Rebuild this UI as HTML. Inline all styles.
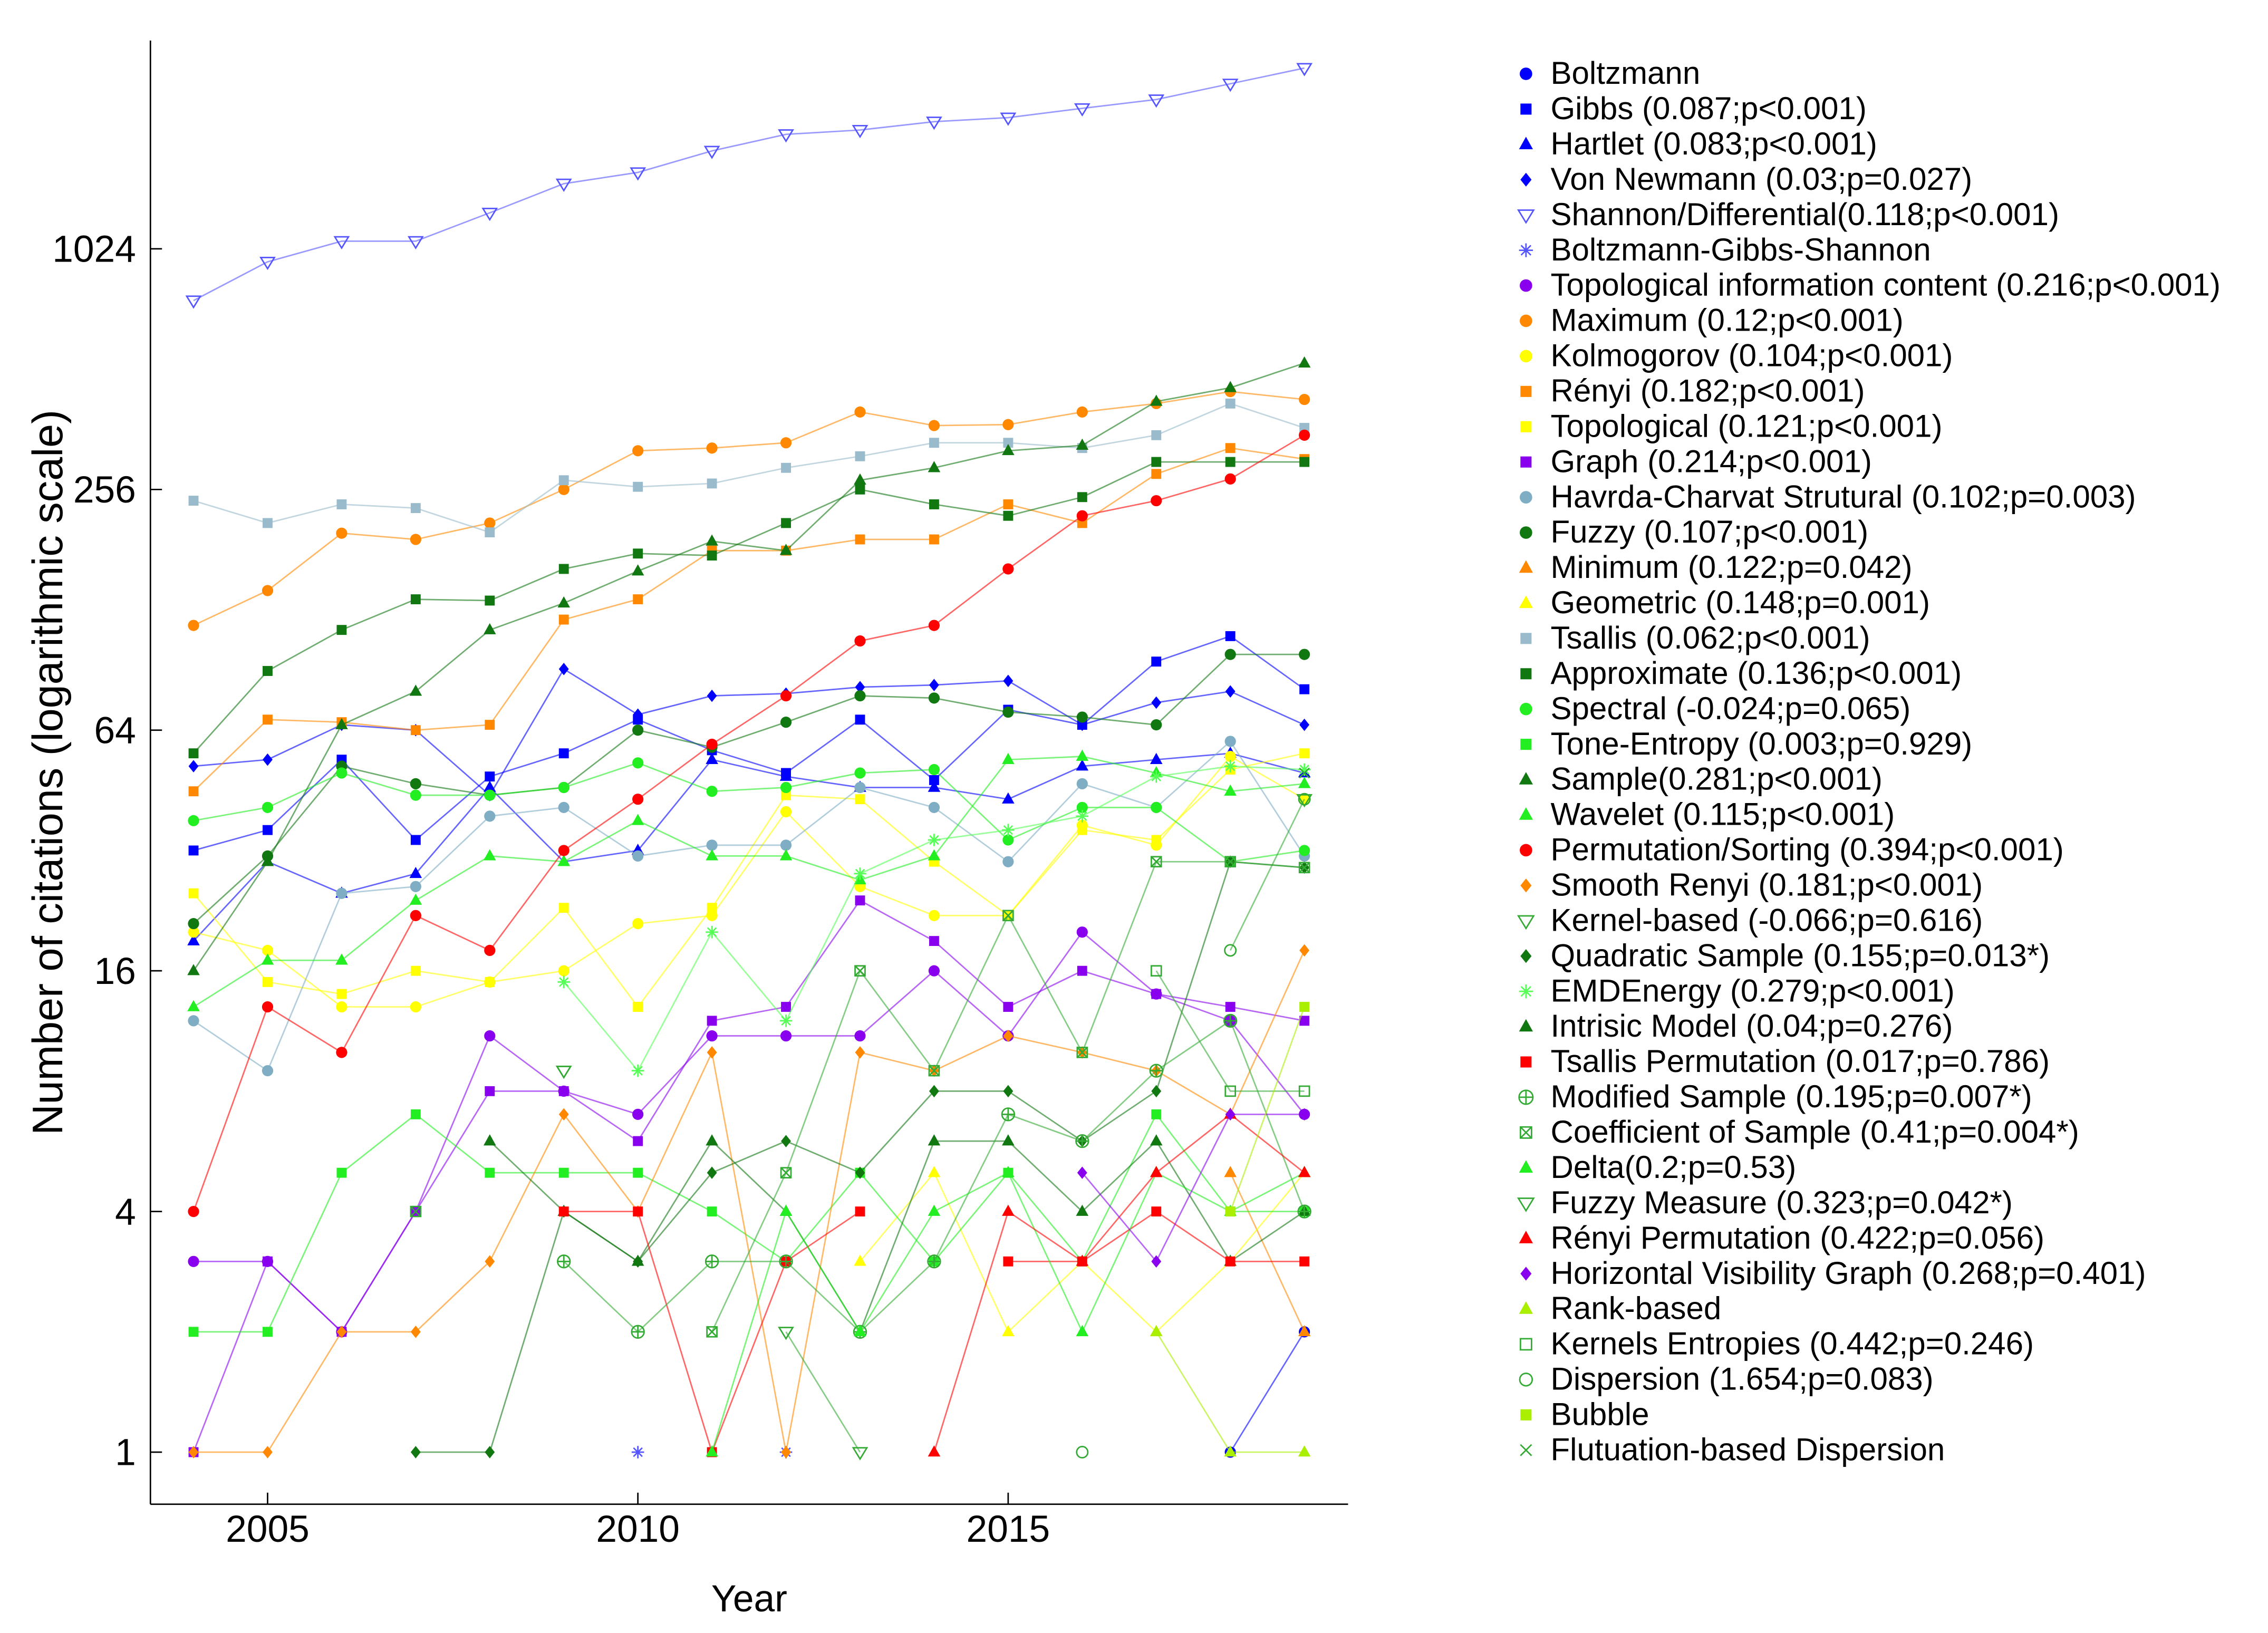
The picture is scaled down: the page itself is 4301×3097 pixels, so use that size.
<!DOCTYPE html>
<html><head><meta charset="utf-8"><style>
html,body{margin:0;padding:0;background:#fff}
svg{display:block}
text{font-family:"Liberation Sans",sans-serif;fill:#000}
</style></head><body>
<svg id="chart" width="4301" height="3097" viewBox="0 0 1568 1129" xmlns="http://www.w3.org/2000/svg">
<g id="axes"></g>
<g id="series"></g>
<g id="legend"></g>
</svg>
<script>
const years = [2004,2005,2006,2007,2008,2009,2010,2011,2012,2013,2014,2015,2016,2017,2018,2019];
const yTicks = [1,4,16,64,256,1024];
const xTicks = [2005,2010,2015];
const N = null;
const names = ["Boltzmann","Gibbs (0.087;p<0.001)","Hartlet (0.083;p<0.001)","Von Newmann (0.03;p=0.027)","Shannon/Differential(0.118;p<0.001)","Boltzmann-Gibbs-Shannon","Topological information content (0.216;p<0.001)","Maximum (0.12;p<0.001)","Kolmogorov (0.104;p<0.001)","Rényi (0.182;p<0.001)","Topological (0.121;p<0.001)","Graph (0.214;p<0.001)","Havrda-Charvat Strutural (0.102;p=0.003)","Fuzzy (0.107;p<0.001)","Minimum (0.122;p=0.042)","Geometric (0.148;p=0.001)","Tsallis (0.062;p<0.001)","Approximate (0.136;p<0.001)","Spectral (-0.024;p=0.065)","Tone-Entropy (0.003;p=0.929)","Sample(0.281;p<0.001)","Wavelet (0.115;p<0.001)","Permutation/Sorting (0.394;p<0.001)","Smooth Renyi (0.181;p<0.001)","Kernel-based (-0.066;p=0.616)","Quadratic Sample (0.155;p=0.013*)","EMDEnergy (0.279;p<0.001)","Intrisic Model (0.04;p=0.276)","Tsallis Permutation (0.017;p=0.786)","Modified Sample (0.195;p=0.007*)","Coefficient of Sample (0.41;p=0.004*)","Delta(0.2;p=0.53)","Fuzzy Measure (0.323;p=0.042*)","Rényi Permutation (0.422;p=0.056)","Horizontal Visibility Graph (0.268;p=0.401)","Rank-based","Kernels Entropies (0.442;p=0.246)","Dispersion (1.654;p=0.083)","Bubble","Flutuation-based Dispersion"];
const colors = ["#0000ff","#0000ff","#0000ff","#0000ff","#5555ff","#5555ff","#8800ee","#ff8800","#ffff00","#ff8800","#ffff00","#8800ee","#7faec4","#117711","#ff8800","#ffff00","#99bbcc","#117711","#22ee22","#22ee22","#117711","#22ee22","#ff0000","#ff8800","#33aa33","#117711","#55ff55","#117711","#ff0000","#33aa33","#33aa33","#22ee22","#33aa33","#ff0000","#8800ee","#aaee00","#33aa33","#33aa33","#aaee00","#33aa33"];
const markers = ["circle","square","tri","diamond","otri","star","circle","circle","circle","square","square","square","circle","circle","tri","tri","square","square","circle","square","tri","tri","circle","diamond","otri","diamond","star","tri","square","ocplus","osqx","tri","otri","tri","diamond","tri","osquare","ocircle","square","x"];
const values = [
[N,N,N,N,N,N,N,N,N,N,N,N,N,N,1,2],
[32,36,54,34,49,56,68,57,50,68,48,72,66,95,110,81],
[19,30,25,28,46,30,32,54,49,46,46,43,52,54,56,50],
[52,54,66,64,44,91,70,78,79,82,83,85,66,75,80,66],
[760,950,1070,1070,1260,1490,1590,1800,1980,2030,2130,2180,2300,2420,2650,2900],
[N,N,N,N,N,N,1,N,1,N,N,N,N,N,N,N],
[3,3,2,4,11,8,7,11,11,11,16,11,20,14,12,7],
[117,143,199,192,211,256,320,325,335,400,370,372,400,420,450,430],
[20,18,13,13,15,16,21,22,40,26,22,22,37,33,55,43],
[45,68,67,64,66,121,136,180,180,192,192,235,211,280,325,305],
[25,15,14,16,15,23,13,23,44,43,30,22,36,34,51,56],
[1,3,2,4,8,8,6,12,13,24,19,13,16,14,13,12],
[12,9,25,26,39,41,31,33,33,46,41,30,47,41,60,31],
[21,31,52,47,44,46,64,58,67,78,77,71,69,66,99,99],
[N,N,N,N,N,N,N,N,N,N,N,N,N,N,5,2],
[N,N,N,N,N,N,N,N,N,3,5,2,3,2,3,5],
[240,211,235,230,200,270,260,265,290,310,335,335,325,350,420,365],
[56,90,114,136,135,162,177,175,211,256,235,220,245,300,300,300],
[38,41,50,44,44,46,53,45,46,50,51,34,41,41,30,32],
[2,2,5,7,5,5,5,4,3,5,3,5,3,7,4,4],
[16,30,66,80,114,133,160,190,180,270,290,320,330,425,460,530],
[13,17,17,24,31,30,38,31,31,27,31,54,55,50,45,47],
[4,13,10,22,18,32,43,59,78,107,117,162,220,240,272,350],
[1,1,2,2,3,7,4,10,1,10,9,11,10,9,7,18],
[N,N,N,N,N,9,N,N,N,N,N,N,N,N,N,43],
[N,N,N,1,1,4,3,5,6,5,8,8,6,8,30,29],
[N,N,N,N,N,15,9,20,12,28,34,36,39,49,52,51],
[N,N,N,N,6,4,3,6,4,2,6,6,4,6,3,4],
[N,N,N,N,N,4,4,1,3,4,N,3,3,4,3,3],
[N,N,N,N,N,3,2,3,3,2,3,7,6,9,12,4],
[N,N,N,4,N,N,N,2,5,16,9,22,10,30,30,29],
[N,N,N,N,N,N,N,1,4,2,4,5,2,5,4,5],
[N,N,N,N,N,9,N,N,2,1,N,N,N,N,N,N],
[N,N,N,N,N,N,N,N,N,N,1,4,3,5,7,5],
[N,N,N,N,N,N,N,N,N,N,N,N,5,3,7,7],
[N,N,N,N,N,N,N,N,N,N,N,N,N,2,1,1],
[N,N,N,N,N,N,N,N,N,N,N,N,N,16,8,8],
[N,N,N,N,N,N,N,N,N,N,N,N,1,N,18,43],
[N,N,N,N,N,N,N,N,N,N,N,N,N,N,4,13],
[N,N,N,N,N,N,N,N,N,N,N,N,N,N,N,50]
];
const NS="http://www.w3.org/2000/svg";
function mk(tag, attrs, parent){const e=document.createElementNS(NS,tag);for(const k in attrs)e.setAttribute(k,attrs[k]);parent.appendChild(e);return e;}
const X0=104,X1=932,Y0=28,Y1=1040;
function xs(yr){return 185+(yr-2005)*51.2;}
function ys(v){return 1004-Math.log2(v)*83.2;}
const axes=document.getElementById('axes');
let a=mk('line',{x1:X0,y1:Y0,x2:X0,y2:Y1,stroke:'#000','stroke-width':1},axes);

a=mk('line',{x1:X0,y1:Y1,x2:X1,y2:Y1,stroke:'#000','stroke-width':1},axes);

yTicks.forEach(t=>{const y=ys(t);
 mk('line',{x1:X0,y1:y,x2:X0+8,y2:y,stroke:'#000'},axes);
 const tx=mk('text',{x:X0-10,y:y+9,'text-anchor':'end','font-size':26},axes);tx.textContent=t;
 });
xTicks.forEach(t=>{const x=xs(t);
 mk('line',{x1:x,y1:Y1,x2:x,y2:Y1-8,stroke:'#000'},axes);
 const tx=mk('text',{x:x,y:Y1+26,'text-anchor':'middle','font-size':26},axes);tx.textContent=t;
 });
let t=mk('text',{x:518,y:1114,'text-anchor':'middle','font-size':26},axes);t.textContent='Year';

t=mk('text',{x:43,y:534,'text-anchor':'middle','font-size':29.5,transform:'rotate(-90 43 534)'},axes);t.textContent='Number of citations (logarithmic scale)';


function marker(type,x,y,c,p,r){
 r=r||4.3;let e;
 if(type==='circle')e=mk('circle',{cx:x,cy:y,r:r*0.9,fill:c},p);
 else if(type==='ocircle')e=mk('circle',{cx:x,cy:y,r:r*0.9,fill:'none',stroke:c,'stroke-width':1},p);
 else if(type==='square')e=mk('rect',{x:x-r*0.8,y:y-r*0.8,width:r*1.6,height:r*1.6,fill:c},p);
 else if(type==='osquare'||type==='osqx'){e=mk('g',{},p);mk('rect',{x:x-r*0.8,y:y-r*0.8,width:r*1.6,height:r*1.6,fill:'none',stroke:c,'stroke-width':1},e);
   if(type==='osqx'){mk('path',{d:`M${x-r*0.8},${y-r*0.8}L${x+r*0.8},${y+r*0.8}M${x+r*0.8},${y-r*0.8}L${x-r*0.8},${y+r*0.8}`,stroke:c,'stroke-width':1},e);}}
 else if(type==='ocplus'){e=mk('g',{},p);mk('circle',{cx:x,cy:y,r:r,fill:'none',stroke:c,'stroke-width':1},e);mk('path',{d:`M${x-r},${y}H${x+r}M${x},${y-r}V${y+r}`,stroke:c,'stroke-width':1},e);}
 else if(type==='tri')e=mk('polygon',{points:`${x},${y-r*1.1} ${x+r},${y+r*0.7} ${x-r},${y+r*0.7}`,fill:c},p);
 else if(type==='otri')e=mk('polygon',{points:`${x},${y+r*1.1} ${x+r*1.1},${y-r*0.7} ${x-r*1.1},${y-r*0.7}`,fill:'none',stroke:c,'stroke-width':1},p);
 else if(type==='diamond')e=mk('polygon',{points:`${x},${y-r} ${x+r*0.8},${y} ${x},${y+r} ${x-r*0.8},${y}`,fill:c},p);
 else if(type==='star')e=mk('path',{d:`M${x-r},${y}H${x+r}M${x},${y-r}V${y+r}M${x-r*0.7},${y-r*0.7}L${x+r*0.7},${y+r*0.7}M${x+r*0.7},${y-r*0.7}L${x-r*0.7},${y+r*0.7}`,stroke:c,'stroke-width':1},p);
 else e=mk('path',{d:`M${x-r*0.8},${y-r*0.8}L${x+r*0.8},${y+r*0.8}M${x+r*0.8},${y-r*0.8}L${x-r*0.8},${y+r*0.8}`,stroke:c,'stroke-width':1},p);
 return e;
}
const series=document.getElementById('series');
values.forEach((vals,i)=>{
 const g=mk('g',{},series);
 
 
 let seg=[];const segs=[];
 vals.forEach((v,j)=>{if(v==null){if(seg.length)segs.push(seg);seg=[];}else seg.push([xs(years[j]),ys(v)]);});
 if(seg.length)segs.push(seg);
 segs.forEach(s=>{if(s.length>1){const l=mk('polyline',{points:s.map(p=>p.join(',')).join(' '),fill:'none',stroke:colors[i],'stroke-opacity':0.6,'stroke-width':1},g);
   }});
 vals.forEach((v,j)=>{if(v!=null){const m=marker(markers[i],xs(years[j]),ys(v),colors[i],g);
   }});
});
const legend=document.getElementById('legend');
names.forEach((n,i)=>{
 const y=51+i*24.4;
 const g=mk('g',{},legend);
 
 
 marker(markers[i],1055,y,colors[i],g,4.8);
 const tx=mk('text',{x:1072,y:y+7,'font-size':21.9},g);tx.textContent=n;
});
</script>
</body></html>
